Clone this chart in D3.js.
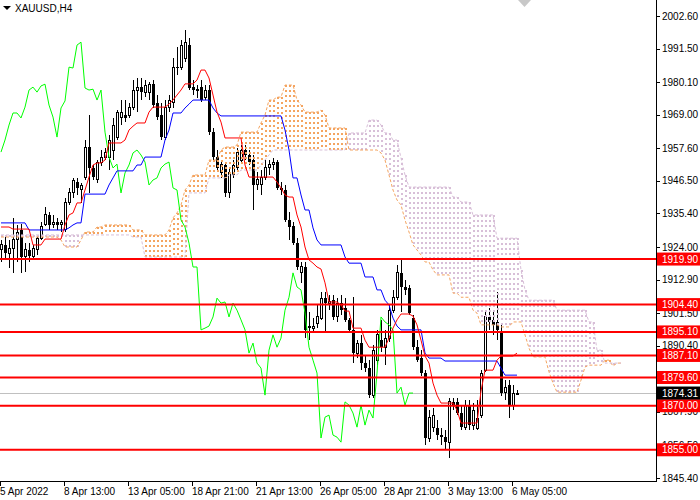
<!DOCTYPE html>
<html>
<head>
<meta charset="utf-8">
<script src="https://cdn.jsdelivr.net/npm/d3@7"></script>
<style>
  body { margin: 0; background: #fff; }
  svg { display: block; font-family: "Liberation Sans", Arial, sans-serif; }
</style>
</head>
<body>
<div id="chart"></div>
<script>
// XAUUSD H4 candles, bars 0..129
const openP = [1923.0,1924.7,1921.9,1923.6,1926.4,1929.8,1920.6,1923.0,1920.9,1923.0,
  1927.0,1931.8,1934.9,1931.8,1932.5,1931.5,1929.8,1939.3,1942.4,1946.1,
  1943.4,1947.8,1958.0,1950.9,1946.8,1952.9,1954.6,1954.6,1957.0,1961.4,
  1967.9,1968.9,1968.9,1971.3,1977.4,1978.4,1976.7,1976.7,1979.4,1973.0,
  1968.9,1961.1,1971.3,1973.0,1985.2,1985.2,1988.3,1992.7,1978.4,1977.4,
  1978.4,1975.0,1977.4,1963.1,1954.6,1949.5,1951.9,1942.4,1948.5,1951.2,
  1953.6,1957.0,1955.3,1953.6,1945.1,1945.1,1947.8,1950.9,1952.2,1952.9,
  1944.1,1943.4,1933.2,1931.1,1925.3,1915.2,1917.2,1897.1,1896.4,1898.1,
  1899.8,1906.6,1904.9,1905.9,1900.2,1904.9,1903.2,1899.2,1895.8,1887.9,
  1891.3,1884.5,1882.8,1873.6,1885.5,1892.3,1889.9,1893.0,1902.5,1906.9,
  1915.2,1910.4,1910.0,1899.8,1889.9,1886.2,1881.1,1859.0,1862.7,1862.4,
  1860.0,1859.3,1857.6,1871.3,1871.3,1867.5,1862.7,1870.2,1863.4,1862.4,
  1866.8,1882.1,1900.2,1899.2,1898.5,1895.1,1874.6,1877.0,1870.2,1874.3];
const highP = [1926.4,1927.7,1926.4,1933.9,1931.5,1931.8,1925.3,1925.3,1924.7,1927.7,
  1932.5,1937.6,1935.9,1934.9,1933.9,1933.2,1940.6,1944.1,1947.5,1947.5,
  1945.8,1960.4,1968.9,1951.9,1953.6,1957.0,1957.7,1962.1,1967.9,1970.6,
  1974.0,1974.0,1973.0,1980.8,1981.5,1981.5,1980.8,1980.1,1980.8,1975.7,
  1973.0,1974.0,1975.7,1988.3,1992.1,1994.4,1997.8,1995.1,1980.8,1979.1,
  1980.8,1979.1,1979.1,1964.5,1957.0,1953.6,1952.9,1950.9,1953.6,1957.7,
  1958.7,1958.7,1957.0,1955.3,1949.5,1950.2,1953.6,1953.6,1954.3,1953.6,
  1946.1,1945.1,1935.9,1932.5,1927.0,1918.9,1918.9,1901.9,1899.8,1904.3,
  1908.7,1908.7,1907.6,1907.6,1906.6,1907.6,1906.6,1899.8,1906.9,1892.3,
  1894.1,1887.2,1885.5,1890.6,1895.8,1899.2,1895.8,1904.3,1909.4,1917.9,
  1919.6,1912.8,1911.1,1900.9,1892.3,1888.9,1882.1,1868.5,1869.2,1865.1,
  1862.4,1861.7,1872.6,1872.6,1872.6,1870.2,1871.9,1871.9,1870.9,1871.9,
  1882.1,1901.9,1903.2,1902.5,1908.7,1897.5,1878.7,1878.7,1877.0,1875.3];
const lowP = [1918.9,1920.3,1916.9,1915.2,1918.9,1915.2,1915.5,1918.9,1920.3,1921.3,
  1926.4,1931.1,1929.8,1930.5,1929.8,1929.1,1929.1,1938.3,1940.6,1941.7,
  1938.9,1946.8,1942.4,1946.8,1945.8,1951.5,1953.6,1950.2,1953.6,1960.4,
  1965.5,1966.5,1967.9,1970.6,1969.9,1974.0,1975.0,1974.0,1971.3,1967.2,
  1960.4,1960.4,1969.9,1971.3,1982.5,1984.2,1987.0,1977.4,1975.7,1974.7,
  1973.3,1974.0,1962.1,1953.6,1949.5,1947.5,1941.0,1940.6,1947.5,1950.2,
  1952.9,1953.6,1951.9,1936.6,1943.4,1941.7,1946.8,1948.5,1950.2,1943.4,
  1941.7,1932.5,1926.4,1924.7,1916.2,1911.8,1893.0,1892.3,1895.1,1896.4,
  1899.2,1895.1,1902.5,1899.2,1898.5,1900.9,1898.5,1894.7,1884.5,1886.2,
  1882.1,1881.5,1872.6,1872.6,1883.8,1888.3,1883.8,1891.7,1901.6,1905.9,
  1901.9,1907.6,1900.9,1888.9,1884.8,1880.1,1856.6,1857.6,1861.0,1858.3,
  1856.6,1854.9,1852.2,1868.5,1866.8,1861.7,1861.7,1861.7,1861.7,1861.7,
  1865.8,1881.5,1895.8,1894.1,1892.3,1873.3,1871.9,1865.8,1868.5,1873.6];
const closeP = [1924.7,1921.9,1923.6,1926.4,1929.1,1920.6,1923.0,1920.9,1923.6,1927.0,
  1931.1,1934.9,1931.5,1932.5,1931.5,1932.5,1939.3,1942.4,1946.5,1944.1,
  1944.8,1958.0,1950.9,1947.8,1952.9,1954.6,1956.3,1960.4,1965.5,1969.6,
  1969.6,1967.9,1971.6,1977.4,1978.4,1976.7,1978.8,1979.4,1972.3,1968.2,
  1961.4,1971.3,1973.7,1985.2,1984.9,1992.7,1993.7,1978.1,1977.4,1977.7,
  1974.0,1977.4,1963.1,1954.6,1950.9,1952.2,1942.4,1949.2,1951.9,1956.0,
  1957.0,1955.3,1952.9,1945.1,1946.8,1947.5,1950.9,1952.2,1952.9,1944.1,
  1943.4,1933.2,1930.8,1925.3,1917.2,1917.2,1895.8,1896.4,1897.1,1900.2,
  1906.6,1904.9,1905.3,1900.2,1904.9,1902.5,1899.2,1895.8,1887.9,1891.3,
  1884.5,1882.8,1873.6,1888.9,1894.1,1889.9,1893.0,1902.5,1906.9,1915.2,
  1910.4,1909.4,1901.6,1889.9,1885.5,1881.1,1859.0,1866.1,1866.8,1860.0,
  1859.3,1857.6,1871.3,1870.2,1867.5,1862.7,1870.2,1863.4,1868.5,1865.8,
  1881.1,1900.2,1898.5,1897.5,1895.8,1874.3,1876.3,1870.2,1874.3,1874.3];

// Ichimoku lines
const tenkan = [1930.8,1930.8,1930.8,1930.1,1930.1,1930.1,1930.1,1930.1,1924.7,1924.7,
  1924.7,1926.7,1926.7,1926.7,1926.7,1926.7,1931.5,1934.9,1935.6,1939.0,
  1939.0,1943.4,1947.8,1951.9,1952.6,1952.6,1953.6,1959.4,1959.4,1959.4,
  1959.4,1960.4,1963.8,1965.1,1966.2,1966.2,1966.2,1969.9,1971.6,1971.6,
  1971.6,1971.6,1972.6,1974.0,1975.7,1977.4,1979.5,1979.5,1979.5,1980.8,
  1984.2,1984.2,1981.5,1975.7,1969.9,1966.5,1961.1,1961.1,1961.1,1961.1,
  1961.1,1951.9,1947.8,1947.8,1947.8,1947.8,1947.8,1947.8,1947.8,1946.1,
  1944.1,1941.7,1941.0,1941.0,1934.9,1930.8,1924.0,1919.6,1918.5,1917.2,
  1916.5,1911.8,1905.3,1905.3,1905.3,1904.3,1902.2,1902.2,1896.4,1896.4,
  1896.4,1892.3,1889.9,1889.9,1889.9,1889.9,1889.9,1893.0,1896.4,1899.2,
  1901.2,1901.2,1901.2,1900.5,1897.5,1892.3,1886.9,1884.5,1877.7,1873.6,
  1870.9,1870.9,1870.9,1870.9,1868.5,1864.1,1864.1,1864.1,1864.1,1864.1,
  1875.0,1882.1,1882.1,1882.1,1885.5,1886.9,1886.9,1886.9,1886.9,1887.9];
const kijun = [1932.2,1932.2,1932.2,1932.2,1932.2,1932.2,1932.2,1929.8,1929.8,1929.8,
  1929.8,1929.8,1929.8,1929.8,1929.8,1929.8,1929.8,1930.5,1931.5,1932.2,
  1932.2,1942.0,1942.0,1942.0,1942.0,1942.0,1942.0,1945.1,1947.5,1949.9,
  1949.9,1949.9,1949.9,1949.9,1951.9,1951.9,1954.6,1954.6,1954.6,1954.6,
  1954.6,1960.4,1963.8,1969.6,1969.6,1969.6,1971.3,1972.6,1974.0,1974.0,
  1974.0,1974.0,1974.0,1971.3,1969.6,1968.6,1968.6,1968.6,1968.6,1968.6,
  1968.6,1968.6,1968.6,1968.6,1968.6,1968.6,1968.6,1968.6,1968.6,1968.6,
  1968.6,1963.8,1957.0,1947.5,1947.5,1941.7,1936.6,1936.6,1930.5,1926.4,
  1924.7,1924.7,1924.7,1924.7,1924.7,1924.7,1920.6,1918.5,1918.5,1918.5,
  1918.5,1913.8,1913.8,1913.8,1909.4,1909.4,1905.9,1904.3,1899.8,1897.1,
  1895.8,1895.8,1895.8,1895.8,1895.8,1895.8,1887.9,1886.2,1886.2,1886.2,
  1886.2,1885.2,1885.2,1885.2,1885.2,1885.2,1885.2,1885.2,1885.2,1885.2,
  1885.2,1885.2,1885.2,1885.2,1885.2,1882.8,1880.4,1880.4,1880.4,1880.4];
// Senkou spans, bars 0..155 (already shifted 26 bars ahead)
const spanA = [1927.4,1927.4,1927.4,1927.4,1927.4,1927.4,1927.4,1927.4,1927.4,1927.4,
  1927.4,1927.4,1927.4,1927.4,1927.4,1926.4,1924.0,1924.0,1924.0,1924.0,
  1926.4,1929.1,1929.1,1929.1,1930.8,1930.8,1931.5,1931.5,1931.5,1931.5,
  1931.5,1931.5,1931.5,1929.8,1929.8,1929.8,1928.1,1928.1,1928.1,1928.1,
  1928.1,1928.1,1929.8,1933.9,1935.6,1938.3,1943.4,1945.1,1948.5,1948.5,
  1948.5,1948.5,1953.6,1953.6,1953.6,1957.0,1958.0,1958.0,1958.0,1958.7,
  1963.1,1963.1,1963.1,1963.1,1963.1,1966.2,1968.9,1974.0,1974.0,1975.0,
  1975.0,1979.1,1979.1,1979.1,1974.0,1972.3,1969.9,1969.9,1969.9,1969.9,
  1970.6,1968.9,1964.5,1964.5,1964.5,1964.5,1964.5,1957.0,1957.0,1957.0,
  1957.0,1957.0,1957.0,1957.0,1957.0,1956.0,1953.6,1948.5,1943.4,1940.0,
  1938.3,1933.2,1929.1,1924.7,1923.0,1921.3,1918.9,1918.9,1916.2,1914.5,
  1914.5,1914.5,1914.5,1908.3,1908.3,1906.9,1906.9,1906.9,1902.5,1901.5,
  1897.5,1897.5,1897.5,1897.5,1897.5,1896.8,1896.8,1896.8,1898.5,1898.5,
  1898.5,1894.1,1889.6,1886.6,1886.6,1886.6,1886.6,1881.5,1877.7,1874.6,
  1874.6,1874.6,1874.6,1874.6,1874.6,1878.7,1883.2,1883.8,1883.8,1883.8,
  1883.8,1885.5,1885.5,1883.5,1884.5,1884.5];
const spanB = [1928.1,1928.1,1928.1,1928.1,1928.1,1928.1,1928.1,1928.1,1928.1,1928.1,
  1928.1,1928.1,1928.1,1928.1,1928.1,1928.1,1928.1,1928.1,1928.1,1928.1,
  1928.1,1928.1,1928.1,1928.1,1928.1,1928.1,1928.1,1928.1,1928.1,1928.1,
  1928.1,1928.1,1928.1,1927.4,1927.4,1927.4,1920.6,1920.6,1920.6,1920.6,
  1920.6,1920.6,1920.6,1920.6,1920.6,1920.6,1920.6,1942.4,1942.4,1942.4,
  1942.4,1942.4,1947.5,1947.5,1947.5,1947.5,1947.5,1948.5,1948.5,1948.5,
  1950.2,1950.2,1950.2,1950.2,1950.2,1951.9,1953.6,1955.3,1957.0,1957.0,
  1957.0,1957.0,1957.0,1957.0,1957.0,1957.0,1957.0,1957.0,1957.0,1957.0,
  1957.0,1957.0,1957.0,1957.0,1957.0,1957.0,1957.0,1962.8,1962.8,1962.8,
  1962.8,1962.8,1967.2,1967.2,1967.2,1965.5,1962.8,1962.8,1960.4,1960.4,
  1954.3,1948.5,1944.4,1944.4,1944.4,1944.4,1944.4,1944.4,1944.4,1944.4,
  1944.4,1944.4,1944.4,1941.0,1941.0,1939.3,1939.3,1939.3,1934.9,1934.9,
  1934.9,1934.9,1934.9,1934.9,1927.0,1927.0,1927.0,1927.0,1927.0,1927.0,
  1916.2,1909.4,1905.9,1905.9,1905.9,1905.9,1905.9,1905.9,1905.9,1902.5,
  1902.5,1902.5,1902.5,1902.5,1902.5,1902.5,1902.5,1898.5,1898.5,1888.9,
  1888.9,1884.5,1884.5,1884.5,1884.5,1884.5];
const chikouShift = 26;

// Horizontal levels and axis
const levels = [1919.90, 1904.40, 1895.10, 1887.10, 1879.60, 1870.00, 1855.00];
const bidPrice = 1874.31;
const priceTicks = [2002.60, 1991.50, 1980.10, 1969.00, 1957.60, 1946.50, 1935.40, 1924.00,
  1912.90, 1901.50, 1890.40, 1879.30, 1867.90, 1856.50, 1845.40];
const timeTickBars = [0, 16, 32, 48, 64, 80, 96, 112, 128];
const timeTickLabels = ["5 Apr 2022", "8 Apr 13:00", "13 Apr 05:00", "18 Apr 21:00", "21 Apr 13:00",
  "26 Apr 05:00", "28 Apr 21:00", "3 May 13:00", "6 May 05:00"];

// Set props
var width = 700, height = 500;
var plotW = 656, plotH = 481;

var svg = d3.select("#chart").append("svg")
    .attr("width", width)
    .attr("height", height);

svg.append("defs").append("clipPath").attr("id", "clip")
    .append("rect").attr("width", plotW).attr("height", plotH);

var x = d3.scaleLinear().domain([0, 129]).range([1, 517]);
var y = d3.scaleLinear().domain([1845.4, 2002.6]).range([478, 16]);

var plot = svg.append("g").attr("clip-path", "url(#clip)");

// Bid line
plot.append("line")
    .attr("x1", 0).attr("x2", plotW)
    .attr("y1", Math.round(y(bidPrice)) + 0.5).attr("y2", Math.round(y(bidPrice)) + 0.5)
    .attr("stroke", "#c0c0c0");

// Candles
var bars = d3.range(openP.length);
var candle = plot.append("g").attr("shape-rendering", "crispEdges");
candle.selectAll("line.wick")
    .data(bars).enter().append("line")
    .attr("class", "wick")
    .attr("x1", function (i) { return Math.round(x(i)) + 0.5; })
    .attr("x2", function (i) { return Math.round(x(i)) + 0.5; })
    .attr("y1", function (i) { return y(highP[i]); })
    .attr("y2", function (i) { return y(lowP[i]); })
    .attr("stroke", "#000");
candle.selectAll("rect.body")
    .data(bars).enter().append("rect")
    .attr("class", "body")
    .attr("x", function (i) {
        var cx = Math.round(x(i));
        return closeP[i] >= openP[i] ? cx - 0.5 : cx - 1;
    })
    .attr("width", function (i) { return closeP[i] >= openP[i] ? 2 : 3; })
    .attr("y", function (i) { return Math.min(y(openP[i]), y(closeP[i])); })
    .attr("height", function (i) { return Math.max(1, Math.abs(y(openP[i]) - y(closeP[i]))); })
    .attr("fill", function (i) { return closeP[i] >= openP[i] ? "#fff" : "#000"; })
    .attr("stroke", function (i) { return closeP[i] >= openP[i] ? "#000" : "none"; });

// Kumo hatch (dotted columns, one per bar)
var spanBars = d3.range(spanA.length);
plot.append("g").attr("shape-rendering", "crispEdges")
    .selectAll("line")
    .data(spanBars).enter().append("line")
    .attr("x1", function (j) { return Math.round(x(j)) + 1; })
    .attr("x2", function (j) { return Math.round(x(j)) + 1; })
    .attr("y1", function (j) { return Math.round(y(Math.max(spanA[j], spanB[j]))); })
    .attr("y2", function (j) { return Math.round(y(Math.min(spanA[j], spanB[j]))); })
    .attr("stroke", function (j) { return spanA[j] >= spanB[j] ? "#f4a460" : "#d8bfd8"; })
    .attr("stroke-width", 2)
    .attr("stroke-dasharray", "2,3");

function drawLine(values, color, dash) {
    var line = d3.line()
        .x(function (d, k) { return x(k); })
        .y(function (d) { return y(d); });
    var p = plot.append("path")
        .attr("d", line(values))
        .attr("fill", "none")
        .attr("stroke", color)
        .attr("stroke-width", 1);
    if (dash) p.attr("stroke-dasharray", dash);
    return p;
}

drawLine(spanA, "#f4a460", "3,2");
drawLine(spanB, "#d8bfd8", "3,2");
drawLine(closeP.slice(chikouShift), "#00ff00");
drawLine(kijun, "#0000ff");
drawLine(tenkan, "#ff0000");

// Support / resistance levels
plot.selectAll("line.level")
    .data(levels).enter().append("line")
    .attr("class", "level")
    .attr("x1", 0).attr("x2", plotW)
    .attr("y1", function (d) { return y(d); })
    .attr("y2", function (d) { return y(d); })
    .attr("stroke", "#ff0000")
    .attr("stroke-width", 2);

// Axes frame
svg.append("line").attr("x1", plotW + 0.5).attr("x2", plotW + 0.5)
    .attr("y1", 0).attr("y2", plotH + 1).attr("stroke", "#000");
svg.append("line").attr("x1", 0).attr("x2", plotW + 1)
    .attr("y1", plotH + 0.5).attr("y2", plotH + 0.5).attr("stroke", "#000");

// Price axis
var fmt = d3.format(".2f");
var yAxis = svg.append("g").attr("shape-rendering", "crispEdges");
yAxis.selectAll("line")
    .data(priceTicks).enter().append("line")
    .attr("x1", plotW).attr("x2", plotW + 4)
    .attr("y1", function (d) { return Math.round(y(d)) + 0.5; })
    .attr("y2", function (d) { return Math.round(y(d)) + 0.5; })
    .attr("stroke", "#000");
svg.append("g").selectAll("text")
    .data(priceTicks).enter().append("text")
    .attr("x", plotW + 6)
    .attr("y", function (d) { return y(d); })
    .attr("dy", "0.35em")
    .attr("font-size", "10px")
    .attr("fill", "#000")
    .text(fmt);

// Level price tags
var tags = svg.append("g");
tags.selectAll("rect")
    .data(levels).enter().append("rect")
    .attr("x", plotW + 1).attr("width", width - plotW - 1)
    .attr("y", function (d) { return y(d) - 6.5; })
    .attr("height", 13)
    .attr("fill", "#ff0000");
tags.selectAll("text")
    .data(levels).enter().append("text")
    .attr("x", plotW + 6)
    .attr("y", function (d) { return y(d); })
    .attr("dy", "0.35em")
    .attr("font-size", "10px")
    .attr("fill", "#fff")
    .text(fmt);

// Bid tag
svg.append("rect")
    .attr("x", plotW + 1).attr("width", width - plotW - 1)
    .attr("y", y(bidPrice) - 6.5).attr("height", 13)
    .attr("fill", "#000");
svg.append("text")
    .attr("x", plotW + 6).attr("y", y(bidPrice)).attr("dy", "0.35em")
    .attr("font-size", "10px").attr("fill", "#fff")
    .text(fmt(bidPrice));

// Time axis
svg.append("g").selectAll("line")
    .data(timeTickBars).enter().append("line")
    .attr("x1", function (i) { return Math.round(x(i)) - 0.5; })
    .attr("x2", function (i) { return Math.round(x(i)) - 0.5; })
    .attr("y1", plotH).attr("y2", plotH + 5)
    .attr("stroke", "#000");
svg.append("g").selectAll("text")
    .data(timeTickBars).enter().append("text")
    .attr("x", function (i) { return Math.round(x(i)) - 1; })
    .attr("y", plotH + 14)
    .attr("font-size", "10px")
    .attr("fill", "#000")
    .text(function (i, k) { return timeTickLabels[k]; });

// Title and chart shift marker
svg.append("path").attr("d", "M3,6L11,6L7,10Z").attr("fill", "#000");
svg.append("text").attr("x", 15).attr("y", 12)
    .attr("font-size", "10px").attr("fill", "#000")
    .text("XAUUSD,H4");
svg.append("path").attr("d", "M518,0L531,0L524.5,7Z").attr("fill", "#c8c8c8");
</script>
</body>
</html>
